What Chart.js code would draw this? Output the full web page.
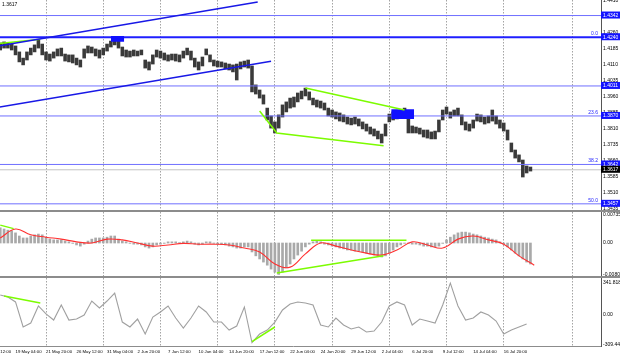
<!DOCTYPE html>
<html><head><meta charset="utf-8">
<script src="https://cdn.jsdelivr.net/npm/chart.js@4.4.0/dist/chart.umd.min.js"></script>
<style>
html,body{margin:0;padding:0;background:#fff;width:620px;height:357px;overflow:hidden;position:relative}
canvas{position:absolute;left:-15px}
#c1{top:0}
#c2{top:212px}
#c3{top:278px}
.sep{position:absolute;left:0;width:620px;height:2px;background:#8c8c8c}
#info{position:absolute;left:2px;top:1px;font:10px 'Liberation Sans',Arial,sans-serif;color:#000;transform:scale(0.5);transform-origin:0 0;white-space:nowrap}
</style></head><body>
<canvas id="c1" width="635" height="210"></canvas>
<div class="sep" style="top:210px"></div>
<canvas id="c2" width="635" height="64"></canvas>
<div class="sep" style="top:276px"></div>
<canvas id="c3" width="635" height="79"></canvas>
<div id="info">1.3617</div>
<script>
// ---------- data ----------
const barStart = 8;          // first plotted bar index
const candleStep = 2;        // bars per candle sample
const cciStep = 4;
const signalStep = 8;
const X_MAX = 323;

const xTickLabels = ['14 May 12:00','19 May 04:00','21 May 20:00','26 May 12:00','31 May 04:00','2 Jun 20:00','7 Jun 12:00','10 Jun 04:00','14 Jun 20:00','17 Jun 12:00','22 Jun 04:00','24 Jun 20:00','29 Jun 12:00','2 Jul 04:00','6 Jul 20:00','9 Jul 12:00','14 Jul 04:00','16 Jul 20:00'];
const xLabelEvery = 16;
const gridBars = [32,62,92,122,152,182,212,242,272,308];

const priceHigh = [
1.4213,1.4218,1.4213,1.4208,1.4199,1.4171,
1.4142,1.4171,1.4189,1.4204,1.4227,1.4208,1.4171,1.4161,1.4171,1.4185,1.4189,1.4161,1.4157,1.4157,1.4142,1.4133,
1.4185,1.4199,1.4194,1.4185,1.4180,1.4189,1.4208,1.4222,1.4236,1.4236,1.4194,1.4180,1.4175,1.4180,1.4175,1.4180,
1.4133,1.4124,1.4157,1.4180,1.4175,1.4166,1.4157,1.4161,1.4161,1.4157,1.4175,1.4189,1.4175,1.4142,1.4124,1.4147,
1.4185,1.4157,1.4133,1.4128,1.4124,1.4119,1.4114,1.4110,1.4114,1.4124,1.4128,1.4133,1.4105,1.4016,1.3992,1.3969,
1.3907,1.3870,1.3842,1.3875,1.3922,1.3936,1.3954,1.3959,1.3978,1.3987,1.4001,1.3983,1.3954,1.3945,1.3940,1.3931,
1.3907,1.3898,1.3889,1.3884,1.3875,1.3865,1.3860,1.3865,1.3856,1.3842,1.3832,1.3818,1.3809,1.3799,1.3785,1.3832,
1.3879,1.3889,1.3889,1.3898,1.3907,1.3875,1.3823,1.3818,1.3813,1.3804,1.3804,1.3795,1.3799,1.3851,1.3898,1.3912,
1.3889,1.3898,1.3907,1.3875,1.3842,1.3832,1.3851,1.3879,1.3875,1.3865,1.3870,1.3898,1.3870,1.3851,1.3837,1.3804,
1.3743,1.3710,1.3687,1.3663,1.3635,1.3630];
const priceLow = [
1.4180,1.4189,1.4189,1.4180,1.4157,1.4124,
1.4110,1.4133,1.4157,1.4171,1.4189,1.4157,1.4133,1.4128,1.4142,1.4152,1.4152,1.4128,1.4124,1.4119,1.4110,1.4100,
1.4142,1.4166,1.4166,1.4152,1.4142,1.4157,1.4175,1.4194,1.4204,1.4189,1.4152,1.4147,1.4147,1.4152,1.4152,1.4157,
1.4095,1.4086,1.4114,1.4147,1.4142,1.4133,1.4128,1.4133,1.4128,1.4124,1.4142,1.4157,1.4133,1.4100,1.4086,1.4105,
1.4157,1.4124,1.4105,1.4100,1.4100,1.4091,1.4086,1.4077,1.4039,1.4091,1.4100,1.4095,1.3983,1.3973,1.3954,1.3926,
1.3851,1.3813,1.3790,1.3813,1.3865,1.3889,1.3907,1.3912,1.3936,1.3950,1.3964,1.3945,1.3922,1.3912,1.3907,1.3898,
1.3870,1.3865,1.3856,1.3846,1.3842,1.3832,1.3828,1.3832,1.3823,1.3809,1.3799,1.3785,1.3776,1.3762,1.3743,1.3776,
1.3842,1.3851,1.3856,1.3860,1.3860,1.3790,1.3790,1.3790,1.3785,1.3771,1.3766,1.3762,1.3762,1.3795,1.3851,1.3879,
1.3860,1.3870,1.3870,1.3828,1.3804,1.3799,1.3813,1.3846,1.3842,1.3832,1.3837,1.3846,1.3832,1.3813,1.3799,1.3757,
1.3701,1.3672,1.3654,1.3583,1.3602,1.3611];

const PRICE_MIN = 1.3428, PRICE_MAX = 1.4415;
const priceTicks = [1.4410,1.4335,1.4260,1.4185,1.4110,1.4035,1.3960,1.3885,1.3810,1.3735,1.3660,1.3585,1.3510,1.3435];
const levelValues = [1.4342,1.4240,1.4011,1.3870,1.3642,1.3457];
const currentPrice = 1.3617;
const fibLevels = [1.4240,1.3870,1.3642,1.3457];
const fibLabels = ['0.0','23.6','38.2','50.0'];

const blueUpper = [[0,1.4188],[143,1.4406]];
const blueLower = [[0,1.3900],[150,1.4127]];
const greenTop  = [[0,1.4204],[29,1.4230]];
const greenLow  = [[144,1.3893],[153,1.3790],[209,1.3730]];
const greenHigh = [[168,1.4001],[220,1.3898]];
const box1 = {x:[66,73], y:[1.4219,1.4246]};
const box2 = {x:[213,225], y:[1.3856,1.3902]};

const macdHist = [
0.0039,0.0036,0.0033,0.0031,0.0026,0.0018,0.0013,0.0013,0.0018,0.0021,
0.0023,0.0021,0.0015,0.0010,0.0008,0.0008,0.0008,0.0005,0.0003,-0.0001,
-0.0005,-0.0008,-0.0003,0.0005,0.0010,0.0013,0.0013,0.0013,0.0015,0.0018,
0.0018,0.0010,0.0005,0.0003,-0.0001,-0.0003,-0.0003,-0.0005,-0.0010,-0.0013,
-0.0010,-0.0005,-0.0003,-0.0001,0.0003,0.0003,0.0003,0.0001,0.0003,0.0005,
0.0003,-0.0003,-0.0005,-0.0003,0.0003,0.0003,-0.0001,-0.0003,-0.0003,-0.0005,
-0.0008,-0.0010,-0.0013,-0.0013,-0.0010,-0.0010,-0.0023,-0.0033,-0.0041,-0.0049,
-0.0057,-0.0067,-0.0075,-0.00808,-0.0075,-0.0064,-0.0054,-0.0041,-0.0031,-0.0021,
-0.0010,-0.0003,0.0003,0.0005,0.0003,-0.0003,-0.0005,-0.0008,-0.0010,-0.0013,
-0.0015,-0.0018,-0.0018,-0.0021,-0.0021,-0.0023,-0.0026,-0.0028,-0.0031,-0.0033,
-0.0036,-0.0033,-0.0026,-0.0018,-0.0010,-0.0005,-0.0001,-0.0001,-0.0003,-0.0003,
-0.0005,-0.0008,-0.0008,-0.0010,-0.0010,-0.0008,-0.0001,0.0008,0.0015,0.0021,
0.0026,0.0028,0.0028,0.0026,0.0023,0.0021,0.0018,0.0015,0.0013,0.0010,
0.0008,0.0003,-0.0003,-0.0010,-0.0018,-0.0026,-0.0033,-0.0041,-0.0049,-0.0054];
const macdSignal = [
0.0013,0.0036,0.0021,0.0015,0.0010,0.0003,0.0000,0.0010,0.0008,0.0000,
-0.0008,-0.0005,-0.0001,-0.0003,-0.0003,-0.0005,-0.0013,-0.0023,-0.0054,-0.0062,
-0.0028,0.0000,-0.0008,-0.0018,-0.0026,-0.0031,-0.0018,0.0003,-0.0005,-0.0013,
0.0010,0.0018,0.0008,-0.0003,-0.0033,-0.0057];
const MACD_MIN = -0.00848, MACD_MAX = 0.00797;
const macdTicks = [0.00735,0,-0.00808];
const macdTickLabels = ['0.00735','0.00','-0.00808'];
const macdGreen1 = [[8,0.0046],[15,0.0037]];
const macdGreen2 = [[171,0.0007],[221,0.0007]];
const macdGreen3 = [[153,-0.0077],[209,-0.0033]];

const cciValues = [
210,189,137,-126,-84,95,11,-53,105,-53,
-42,0,147,74,147,231,-74,-126,-42,-200,
-21,32,95,-32,-137,-32,95,32,-74,-74,
-158,-116,84,-290,-200,-158,-74,53,116,137,
126,105,-105,-126,-32,-105,-147,-126,-179,-168,
-74,95,137,105,-105,-42,-63,-84,105,335,
95,-53,-32,32,0,-63,-200,-158,-126,-95];
const CCI_MIN = -325.6, CCI_MAX = 388.7;
const cciTicks = [341.8183,0,-309.4404];
const cciTickLabels = ['341.8183','0.00','-309.4404'];
const cciGreen1 = [[10,200],[29,126]];
const cciGreen2 = [[140,-280],[152,-126]];

// ---------- helpers ----------
Chart.defaults.font.family = "'Liberation Sans', Arial, sans-serif";
const gridSet = new Set(gridBars);
const xTickValues = Array.from(new Set([...xTickLabels.map((_, j) => j * xLabelEvery), ...gridBars])).sort((a,b)=>a-b);
function zeroPad(s){ s.paddingLeft = 0; s.paddingRight = 0; s.paddingTop = 0; s.paddingBottom = 0; }
function xScale(showLabels){
  return {
    type:'linear', min:0, max:X_MAX, offset:false, bounds:'data',
    afterBuildTicks: s => { s.ticks = xTickValues.map(v => ({value:v})); },
    afterFit: s => { s.height = showLabels ? 11 : 0; zeroPad(s); },
    grid:{ color: c => (c.tick && gridSet.has(c.tick.value)) ? '#a4a4a4' : 'rgba(0,0,0,0)', lineWidth:1, drawTicks:false, offset:false },
    border:{ display:showLabels, color:'#8c8c8c', width:1, dash:[1.5,1.5] },
    ticks:{ display:showLabels, autoSkip:false, maxRotation:0, minRotation:0, align:'start', padding:3, color:'#000', font:{size:4.3},
      callback: v => (v % xLabelEvery === 0 && v / xLabelEvery < xTickLabels.length) ? xTickLabels[v / xLabelEvery] : '' }
  };
}
function sideAxis(min, max, vals, labels){
  return { position:'right', min, max, bounds:'data', weight:1,
    afterBuildTicks: s => { s.ticks = vals.map(v => ({value:v})); },
    afterFit: s => { s.width = 19; zeroPad(s); },
    grid:{display:false, drawTicks:false},
    border:{display:true, color:'#555', width:1},
    ticks:{autoSkip:false, padding:2, color:'#000', font:{size:5}, callback:(v,i) => labels[i]} };
}
function lineDs(pts, color, width, order, axis){
  return { type:'line', data: pts.map(([x,y]) => ({x,y})), borderColor:color, borderWidth:width,
    pointRadius:0, fill:false, tension:0, order: order ?? 0, yAxisID: axis || 'y' };
}
function boxDs(b, color){
  return [
    { type:'line', data:[{x:b.x[0],y:b.y[1]},{x:b.x[1],y:b.y[1]}], borderWidth:0, pointRadius:0, fill:'+1', backgroundColor:color, order:1, yAxisID:'y' },
    { type:'line', data:[{x:b.x[0],y:b.y[0]},{x:b.x[1],y:b.y[0]}], borderWidth:0, pointRadius:0, fill:false, order:1, yAxisID:'y' }
  ];
}
const baseOpts = { responsive:false, devicePixelRatio:1, animation:false, events:[],
  plugins:{legend:{display:false}, tooltip:{enabled:false}, title:{display:false}},
  layout:{padding:0} };

// ---------- main price chart ----------
const boxTickSet = new Set([...levelValues, currentPrice]);
const mainDs = [];
mainDs.push(lineDs([[0,currentPrice],[X_MAX,currentPrice]], '#c4c4c4', 1, 9));
mainDs.push({ type:'bar', yAxisID:'y', data: priceHigh.map((h, n) => ({x: barStart + candleStep * n, y:[priceLow[n], h]})),
  backgroundColor:'#3a3a3a', borderWidth:0, barThickness:2.9, order:5 });
levelValues.forEach(v => mainDs.push(lineDs([[0,v],[X_MAX,v]], v === fibLevels[0] ? '#1f1fff' : '#7070ff', v === fibLevels[0] ? 2 : 1, 3)));
mainDs.push(lineDs(blueUpper, '#1818e6', 1.6));
mainDs.push(lineDs(blueLower, '#1818e6', 1.6));
mainDs.push(lineDs(greenTop, '#7cfc00', 1.5));
mainDs.push(lineDs(greenLow, '#7cfc00', 1.5));
mainDs.push(lineDs(greenHigh, '#7cfc00', 1.5));
mainDs.push(...boxDs(box1, '#1010ff'));
mainDs.push(...boxDs(box2, '#1010ff'));

new Chart(document.getElementById('c1'), {
  type:'bar',
  data:{ datasets: mainDs },
  options:{ ...baseOpts,
    scales:{
      x: xScale(false),
      y: { position:'right', min:PRICE_MIN, max:PRICE_MAX, bounds:'data', weight:1,
        afterBuildTicks: s => { s.ticks = [...priceTicks, ...levelValues, currentPrice].map(v => ({value:v})); },
        afterFit: s => { s.width = 19; zeroPad(s); },
        grid:{display:false, drawTicks:false},
        border:{display:true, color:'#555', width:1},
        ticks:{ autoSkip:false, padding:2, font:{size:5},
          callback: v => Number(v).toFixed(4),
          color: c => boxTickSet.has(c.tick.value) ? '#ffffff' : '#000000',
          showLabelBackdrop: c => boxTickSet.has(c.tick.value),
          backdropColor: c => c.tick.value === currentPrice ? '#000000' : '#1414ff',
          backdropPadding:{left:2, right:3, top:1, bottom:0} } },
      yf: { position:'right', min:PRICE_MIN, max:PRICE_MAX, bounds:'data', weight:0,
        afterBuildTicks: s => { s.ticks = fibLevels.map(v => ({value:v})); },
        afterFit: s => { s.width = 0; zeroPad(s); },
        grid:{display:false, drawTicks:false}, border:{display:false},
        ticks:{ autoSkip:false, mirror:true, padding:-3, labelOffset:-3.5, color:'#2424ff', font:{size:5},
          callback:(v,i) => fibLabels[i] } }
    } }
});

// ---------- MACD ----------
new Chart(document.getElementById('c2'), {
  type:'bar',
  data:{ datasets:[
    { type:'bar', data: macdHist.map((v,n) => ({x: barStart + candleStep * n, y:v})), backgroundColor:'#a9a9a9', borderWidth:0, barThickness:2, order:5, yAxisID:'y' },
    { type:'line', data: macdSignal.map((v,m) => ({x: barStart + signalStep * m, y:v})), borderColor:'#ff3030', borderWidth:1.1, pointRadius:0, tension:0.4, fill:false, order:1, yAxisID:'y' },
    lineDs(macdGreen1, '#7cfc00', 1.5),
    lineDs(macdGreen2, '#7cfc00', 1.5),
    lineDs(macdGreen3, '#7cfc00', 1.5)
  ]},
  options:{ ...baseOpts, scales:{ x: xScale(false), y: sideAxis(MACD_MIN, MACD_MAX, macdTicks, macdTickLabels) } }
});

// ---------- CCI ----------
new Chart(document.getElementById('c3'), {
  type:'line',
  data:{ datasets:[
    { type:'line', data: cciValues.map((v,m) => ({x: barStart + cciStep * m, y:v})), borderColor:'#a0a0a0', borderWidth:1.1, pointRadius:0, tension:0, fill:false, order:2, yAxisID:'y' },
    lineDs(cciGreen1, '#7cfc00', 1.5),
    lineDs(cciGreen2, '#7cfc00', 1.5)
  ]},
  options:{ ...baseOpts, scales:{ x: xScale(true), y: sideAxis(CCI_MIN, CCI_MAX, cciTicks, cciTickLabels) } }
});
</script>
</body></html>
